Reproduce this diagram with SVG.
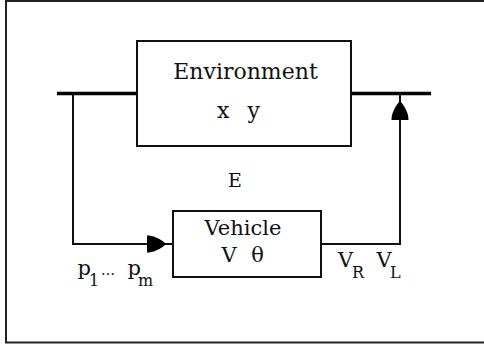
<svg xmlns="http://www.w3.org/2000/svg" width="484" height="349" viewBox="0 0 484 349">
<style>
  .frame { fill: none; stroke: #222; stroke-width: 2; }
  .box { fill: #fff; stroke: #111; stroke-width: 2; }
  .bus { fill: none; stroke: #000; stroke-width: 3.5; }
  .wire { fill: none; stroke: #111; stroke-width: 2; }
  .head { fill: #000; }
  text { font-family: "DejaVu Serif", "Liberation Serif", serif; fill: #111; }
  .lbl { font-size: 21px; }
  .sub { font-size: 16px; }
</style>
<defs>
  <path id="arrowhead" d="M0,0 C-2,-2 -6,-5 -10,-6.5 C-13,-8 -16,-8.5 -19,-8.5 L-19,8.5 C-16,8.5 -13,8 -10,6.5 C-6,5 -2,2 0,0 Z"/>
</defs>
<rect class="frame" x="6" y="1" width="490" height="341.5"/>
<g id="connectors">
  <line class="bus" x1="57" y1="93.5" x2="137" y2="93.5"/>
  <line class="bus" x1="351" y1="93.5" x2="431" y2="93.5"/>
  <polyline class="wire" points="73,94 73,244 173,244"/>
  <polyline class="wire" points="321,244 400,244 400,94"/>
  <use href="#arrowhead" class="head" transform="translate(166,244)"/>
  <use href="#arrowhead" class="head" transform="translate(400,101) rotate(-90)"/>
</g>
<g id="environment">
  <rect class="box" x="137" y="41" width="214" height="105"/>
  <text x="245.5" y="78.5" text-anchor="middle" style="font-size:22px">Environment</text>
  <text x="217" y="118" style="font-size:22px" word-spacing="11">x y</text>
</g>
<g id="label-E">
  <text x="235" y="187" text-anchor="middle" style="font-size:19px">E</text>
</g>
<g id="vehicle">
  <rect class="box" x="173" y="211" width="148" height="66"/>
  <text x="243" y="235" text-anchor="middle" class="lbl">Vehicle</text>
  <text x="221.5" y="261.5" class="lbl" word-spacing="8">V θ</text>
</g>
<g id="label-p">
  <text class="lbl" y="275"><tspan x="77.5">p</tspan><tspan x="89" dy="11" class="sub">1</tspan><tspan x="101" dy="-11" style="font-size:14px">…</tspan><tspan x="127.5">p</tspan><tspan x="138" dy="11" class="sub">m</tspan></text>
</g>
<g id="label-v">
  <text class="lbl" y="266.5"><tspan x="338">V</tspan><tspan x="352" dy="11.5" class="sub">R</tspan><tspan x="376.5" dy="-11.5">V</tspan><tspan x="390" dy="11.5" class="sub">L</tspan></text>
</g>
</svg>
